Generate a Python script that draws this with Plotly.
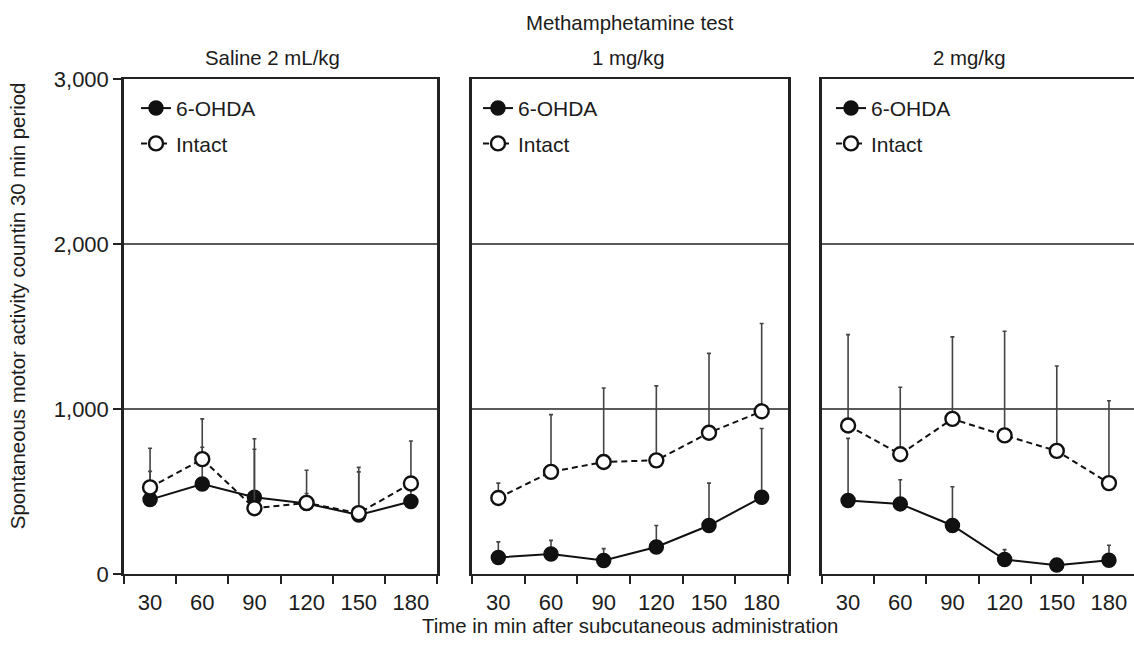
import plotly.graph_objects as go

W, H = 1134, 646

time_labels = ["30", "60", "90", "120", "150", "180"]
panel_titles = ["Saline 2 mL/kg", "1 mg/kg", "2 mg/kg"]
series_names = ["6-OHDA", "Intact"]
y_ticks = [0, 1000, 2000, 3000]

# Panel 1: Saline 2 mL/kg
ohda_saline = [453, 547, 467, 430, 360, 441]
ohda_saline_err = [171, 223, 355, 60, 261, 90]
intact_saline = [527, 698, 401, 433, 371, 551]
intact_saline_err = [237, 244, 357, 198, 277, 257]

# Panel 2: Methamphetamine 1 mg/kg
ohda_1mg = [102, 124, 84, 166, 296, 467]
ohda_1mg_err = [95, 82, 72, 130, 257, 417]
intact_1mg = [463, 621, 681, 691, 858, 988]
intact_1mg_err = [90, 347, 448, 451, 481, 532]

# Panel 3: Methamphetamine 2 mg/kg
ohda_2mg = [447, 427, 296, 90, 56, 86]
ohda_2mg_err = [377, 146, 235, 60, 20, 90]
intact_2mg = [902, 728, 942, 842, 748, 553]
intact_2mg_err = [551, 406, 497, 631, 515, 499]

panels = [
    (ohda_saline, ohda_saline_err, intact_saline, intact_saline_err),
    (ohda_1mg, ohda_1mg_err, intact_1mg, intact_1mg_err),
    (ohda_2mg, ohda_2mg_err, intact_2mg, intact_2mg_err),
]

FONT = "Liberation Sans, Arial, sans-serif"
TXT = "#1c1c1c"
FS_TITLE = 20.4
FS_TICK = 22
FS_LEG = 21

def px_x(x):
    return x / W

def px_y(y):
    return 1 - y / H

x_domains = [[124 / W, 437 / W], [472 / W, 788 / W], [822 / W, 1.0]]
x_ranges = [[-0.5, 5.5], [-0.5, 5.5], [-0.5, 5.48]]
y_domain = [px_y(585), px_y(70)]
legend_x = [136, 478, 831]
legend_names = ["legend", "legend2", "legend3"]

fig = go.Figure()

for i, (o, oe, it, ite) in enumerate(panels):
    xa = "x" if i == 0 else f"x{i+1}"
    ya = "y" if i == 0 else f"y{i+1}"
    lg = legend_names[i]
    fig.add_trace(go.Scatter(
        x=time_labels, y=o, name=series_names[0], mode="lines+markers",
        xaxis=xa, yaxis=ya, legend=lg, legendgroup=f"o{i}",
        line=dict(color="#111111", width=2),
        marker=dict(symbol="circle", size=14, color="#111111",
                    line=dict(color="#111111", width=1.5)),
        error_y=dict(type="data", symmetric=False, array=oe,
                     arrayminus=[0] * len(oe), color="#444444",
                     thickness=1.6, width=2),
    ))
    fig.add_trace(go.Scatter(
        x=time_labels, y=it, name=series_names[1], mode="lines+markers",
        xaxis=xa, yaxis=ya, legend=lg, legendgroup=f"i{i}",
        line=dict(color="#111111", width=2, dash="6px,4px"),
        marker=dict(symbol="circle", size=14, color="white",
                    line=dict(color="#111111", width=2.4)),
        error_y=dict(type="data", symmetric=False, array=ite,
                     arrayminus=[0] * len(ite), color="#444444",
                     thickness=1.6, width=2),
    ))

layout = dict(
    width=W, height=H,
    margin=dict(l=0, r=0, t=0, b=0),
    paper_bgcolor="white", plot_bgcolor="white",
    font=dict(family=FONT, size=FS_TITLE, color=TXT),
    showlegend=True,
)

for i in range(3):
    xk = "xaxis" if i == 0 else f"xaxis{i+1}"
    yk = "yaxis" if i == 0 else f"yaxis{i+1}"
    ya = "y" if i == 0 else f"y{i+1}"
    xa = "x" if i == 0 else f"x{i+1}"
    layout[xk] = dict(
        domain=x_domains[i], anchor=ya, type="category",
        categoryorder="array", categoryarray=time_labels,
        range=x_ranges[i], tickson="boundaries",
        ticks="outside", ticklen=8, tickwidth=2, tickcolor="#222222",
        showline=True, linewidth=2, linecolor="#222222", mirror=True,
        showgrid=False, zeroline=False, ticklabelstandoff=7,
        tickfont=dict(family=FONT, size=FS_TICK, color=TXT),
    )
    layout[yk] = dict(
        domain=y_domain, anchor=xa, range=[0, 3000],
        tickmode="array", tickvals=y_ticks,
        showgrid=True, gridcolor="#5a5a5a", gridwidth=1.5,
        zeroline=False,
        showline=True, linewidth=2.5, linecolor="#222222",
        mirror=(i < 2),
        ticks="outside" if i == 0 else "", ticklen=8, tickwidth=2,
        tickcolor="#222222",
        showticklabels=(i == 0), tickformat=",",
        tickfont=dict(family=FONT, size=FS_TICK, color=TXT),
    )
    layout[legend_names[i]] = dict(
        x=px_x(legend_x[i]), y=px_y(79), xanchor="left", yanchor="top",
        bgcolor="rgba(0,0,0,0)", borderwidth=0,
        font=dict(family=FONT, size=FS_LEG, color=TXT),
        tracegroupgap=5, itemwidth=30, traceorder="grouped",
    )

fig.update_layout(**layout)

annots = [
    dict(text="Methamphetamine test", x=px_x(630), y=px_y(11)),
    dict(text=panel_titles[0], x=px_x(272), y=px_y(48)),
    dict(text=panel_titles[1], x=px_x(628), y=px_y(48)),
    dict(text=panel_titles[2], x=px_x(969), y=px_y(48)),
    dict(text="Time in min after subcutaneous administration", x=px_x(630), y=px_y(639)),
    dict(text="Spontaneous motor activity countin 30 min period", x=px_x(18), y=px_y(306),
         textangle=-90),
]
for a in annots:
    fig.add_annotation(xref="paper", yref="paper", showarrow=False,
                       xanchor="center", yanchor="middle",
                       font=dict(family=FONT, size=FS_TITLE, color=TXT), **a)

fig.write_html("out.html")
